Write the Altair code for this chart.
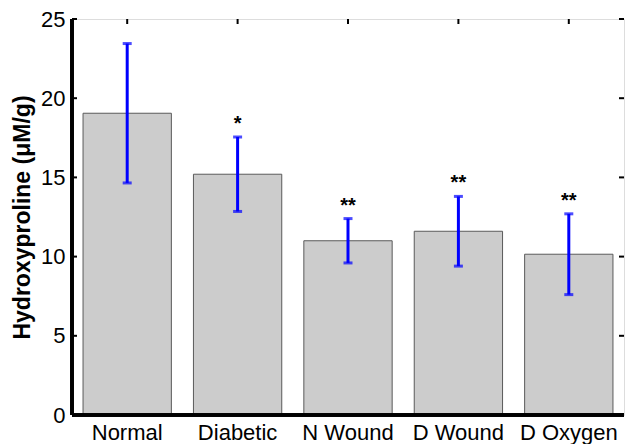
import altair as alt
import pandas as pd

groups = ["Normal", "Diabetic", "N Wound", "D Wound", "D Oxygen"]
means = [19.05, 15.2, 11.0, 11.6, 10.15]
errors = [4.4, 2.35, 1.4, 2.2, 2.55]
marks = ["", "*", "**", "**", "**"]
y_ticks = [0, 5, 10, 15, 20, 25]

df = pd.DataFrame({"group": groups, "mean": means, "err": errors, "sig": marks})
df["lo"] = df["mean"] - df["err"]
df["hi"] = df["mean"] + df["err"]

W, H = 552, 396
FONT = "Liberation Sans"

x_enc = alt.X("group:N", sort=groups,
              scale=alt.Scale(paddingInner=0.2, paddingOuter=0.1),
              axis=alt.Axis(title=None, ticks=False, domain=False, labelAngle=0,
                            labelFontSize=22, labelColor="black", labelFont=FONT,
                            labelPadding=7))
y_scale = alt.Scale(domain=[0, 25], nice=False)
y_axis = alt.Axis(title="Hydroxyproline (\u03bcM/g)", values=y_ticks, ticks=False,
                  domain=False, grid=False, labelFontSize=22, labelColor="black",
                  labelFont=FONT, labelPadding=7, titleFontSize=23, titleFont=FONT,
                  titleFontWeight="bold", titleColor="black", titlePadding=6)

base = alt.Chart(df)

bars = base.mark_bar(color="#cccccc", stroke="#5a5a5a", strokeWidth=1).encode(
    x=x_enc,
    y=alt.Y("mean:Q", scale=y_scale, axis=y_axis),
)

err_rule = base.mark_rule(color="#0000ff", strokeWidth=3).encode(
    x=alt.X("group:N", sort=groups), y="lo:Q", y2="hi:Q")
cap_lo = base.mark_tick(color="#0000ff", thickness=3, size=9, orient="horizontal").encode(
    x=alt.X("group:N", sort=groups), y="lo:Q")
cap_hi = base.mark_tick(color="#0000ff", thickness=3, size=9, orient="horizontal").encode(
    x=alt.X("group:N", sort=groups), y="hi:Q")

stars = base.mark_text(fontSize=20, font=FONT, fontWeight="bold", color="black",
                       baseline="bottom", dy=-3).encode(
    x=alt.X("group:N", sort=groups), y="hi:Q", text="sig:N")

# inward tick marks on the left, right and top edges of the box
tick_df = pd.DataFrame({"v": y_ticks})
left_ticks = alt.Chart(tick_df).mark_rule(color="black", strokeWidth=2).encode(
    y="v:Q", x=alt.value(0), x2=alt.value(5))
right_ticks = alt.Chart(tick_df).mark_rule(color="black", strokeWidth=2).encode(
    y="v:Q", x=alt.value(W - 5), x2=alt.value(W))
top_ticks = base.mark_rule(color="black", strokeWidth=2).encode(
    x=alt.X("group:N", sort=groups), y=alt.value(0), y2=alt.value(5))

# box outline, bottom and left heavier
bottom_line = alt.Chart(tick_df).mark_rule(color="black", strokeWidth=3).encode(
    x=alt.value(0), x2=alt.value(W), y=alt.value(H))
left_line = alt.Chart(tick_df).mark_rule(color="black", strokeWidth=3).encode(
    x=alt.value(0), y=alt.value(0), y2=alt.value(H))

chart = alt.layer(bars, err_rule, cap_lo, cap_hi, stars,
                  left_ticks, right_ticks, top_ticks, bottom_line, left_line).properties(
    width=W, height=H,
    padding={"left": 72, "top": 19, "right": 2, "bottom": 29},
    autosize=alt.AutoSizeParams(type="none"),
).configure_view(stroke="black", strokeWidth=2).configure(background="white")

chart.save("out.html", embed_options={"renderer": "svg", "actions": False})
